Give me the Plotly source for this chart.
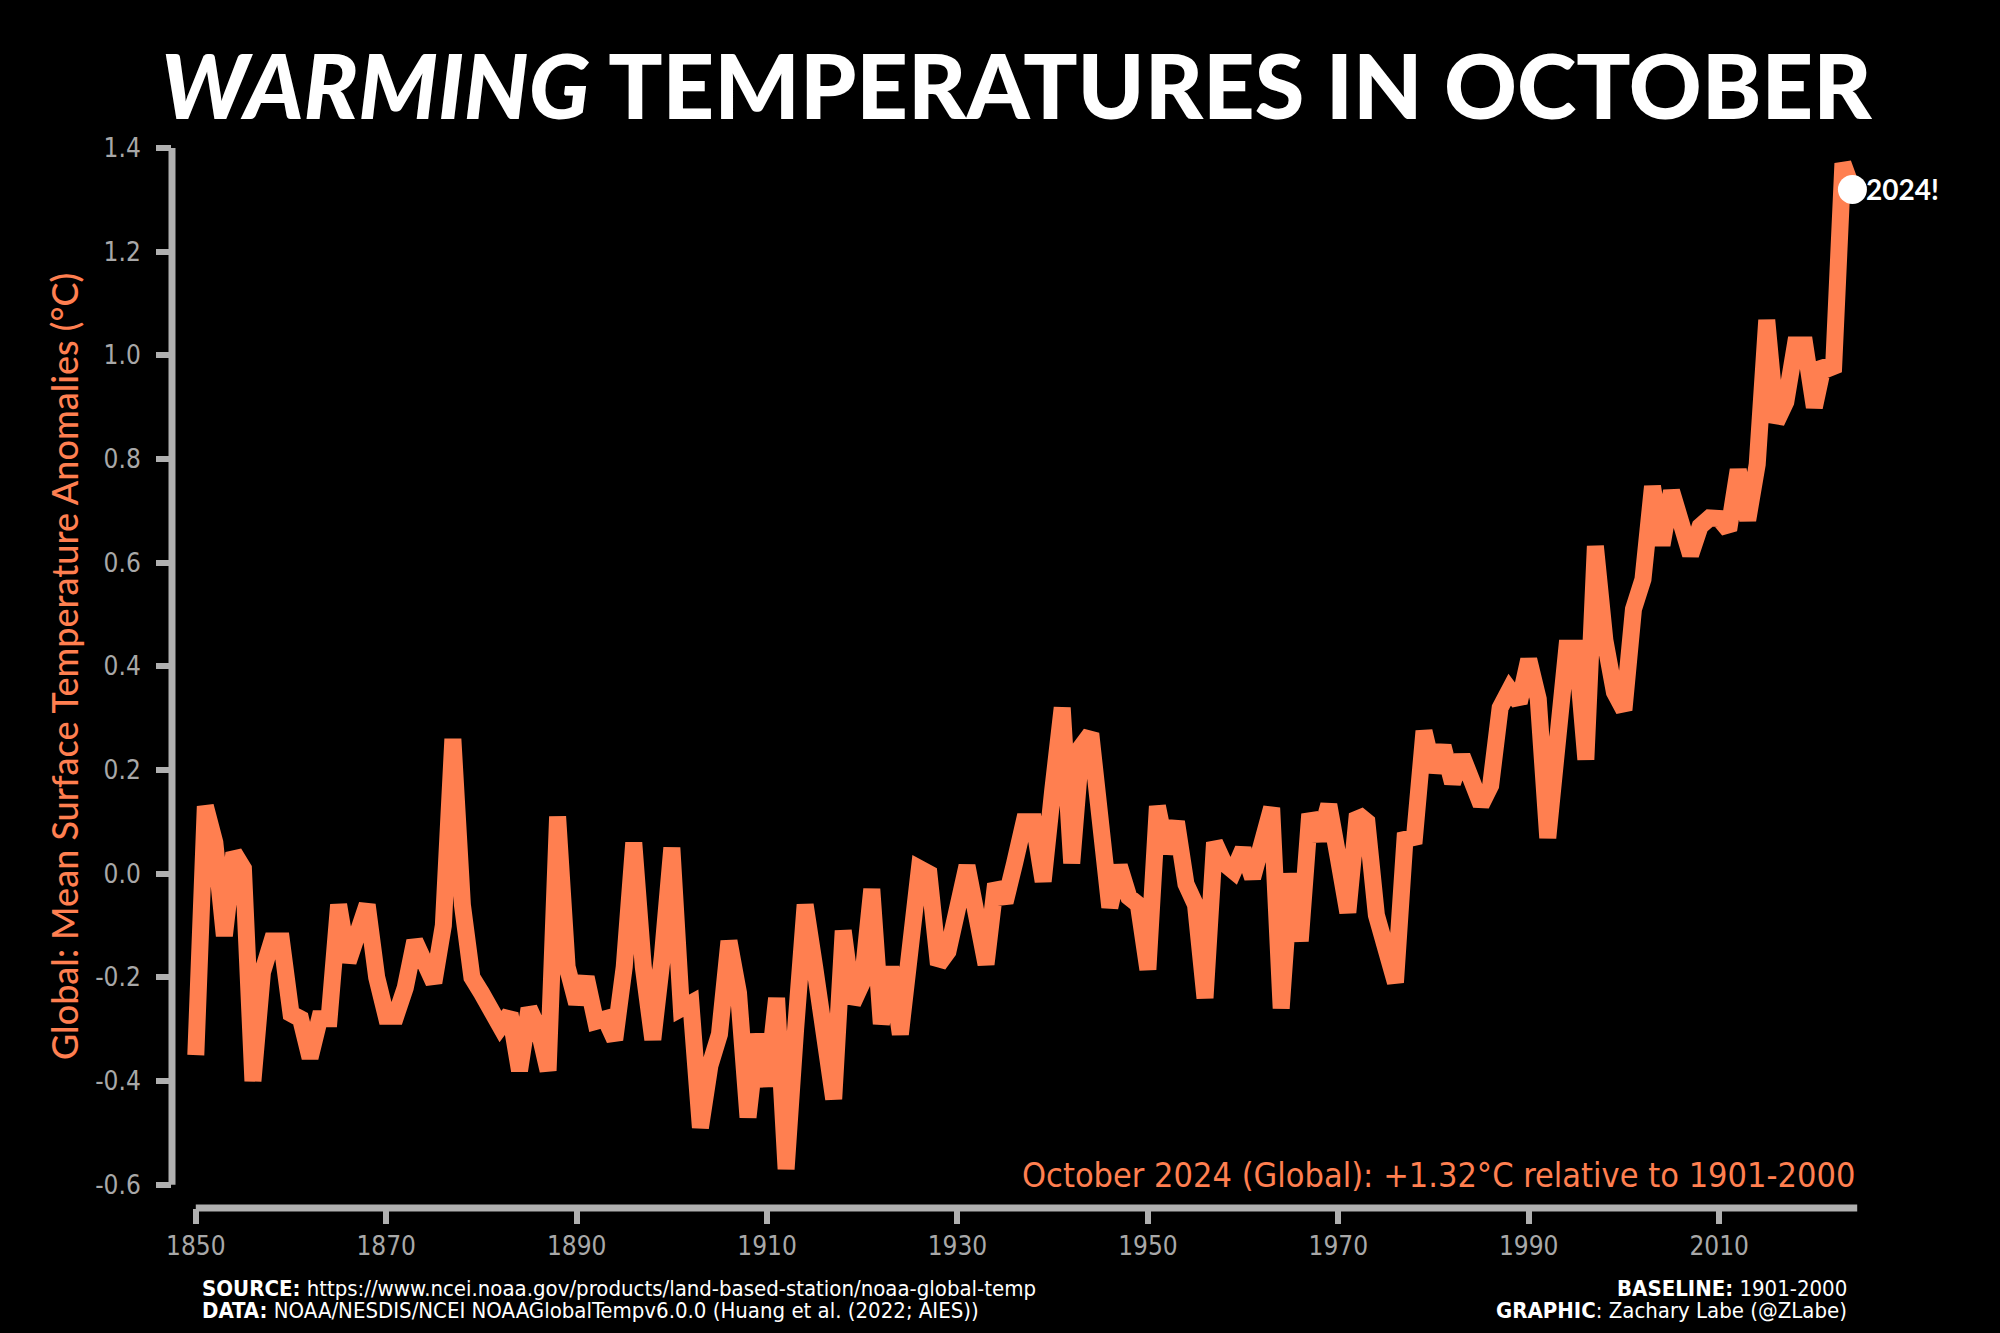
import plotly.graph_objects as go

years = list(range(1850, 2025))
anomalies = [
    -0.35, 0.13, 0.06, -0.12, 0.04, 0.01, -0.40, -0.19, -0.13, -0.13,   # 1850s
    -0.27, -0.28, -0.355, -0.28, -0.28, -0.06, -0.17, -0.12, -0.06, -0.20,  # 1860s
    -0.275, -0.275, -0.22, -0.13, -0.18, -0.21, -0.10, 0.26, -0.06, -0.20,  # 1870s
    -0.23, -0.26, -0.295, -0.27, -0.38, -0.26, -0.30, -0.38, 0.11, -0.18,  # 1880s
    -0.25, -0.20, -0.285, -0.28, -0.32, -0.18, 0.06, -0.18, -0.32, -0.16,  # 1890s
    0.05, -0.26, -0.25, -0.49, -0.37, -0.31, -0.13, -0.23, -0.47, -0.31,   # 1900s
    -0.41, -0.24, -0.57, -0.30, -0.06, -0.18, -0.30, -0.435, -0.11, -0.25,  # 1910s
    -0.21, -0.03, -0.29, -0.18, -0.31, -0.11, 0.01, 0.00, -0.175, -0.15,   # 1920s
    -0.07, 0.015, -0.08, -0.175, -0.02, -0.055, 0.02, 0.10, 0.10, -0.015,  # 1930s
    0.16, 0.32, 0.02, 0.245, 0.27, 0.12, -0.065, 0.015, -0.045, -0.06,    # 1940s
    -0.185, 0.13, 0.04, 0.10, -0.02, -0.06, -0.24, 0.06, 0.02, 0.005,     # 1950s
    0.047, -0.008, 0.06, 0.127, -0.26, 0.0, -0.13, 0.115, 0.065, 0.133,   # 1960s
    0.03, -0.075, 0.115, 0.10, -0.08, -0.15, -0.21, 0.066, 0.07, 0.275,   # 1970s
    0.197, 0.246, 0.175, 0.227, 0.18, 0.133, 0.17, 0.32, 0.355, 0.33,     # 1980s
    0.413, 0.337, 0.069, 0.254, 0.435, 0.435, 0.22, 0.632, 0.45, 0.35,    # 1990s
    0.316, 0.51, 0.568, 0.747, 0.634, 0.738, 0.678, 0.615, 0.67, 0.686,   # 2000s
    0.685, 0.663, 0.779, 0.682, 0.79, 1.068, 0.871, 0.91, 1.02, 1.02,     # 2010s
    0.90, 0.985, 0.968, 1.37, 1.32,                                        # 2020s
]

x_tick_vals = [1850, 1870, 1890, 1910, 1930, 1950, 1970, 1990, 2010]
x_tick_text = ["1850", "1870", "1890", "1910", "1930", "1950", "1970", "1990", "2010"]
y_tick_vals = [-0.6, -0.4, -0.2, 0.0, 0.2, 0.4, 0.6, 0.8, 1.0, 1.2, 1.4]
y_tick_text = ["-0.6", "-0.4", "-0.2", "0.0", "0.2", "0.4", "0.6", "0.8", "1.0", "1.2", "1.4"]

ORANGE = "#FF7F50"
GRAY = "#b0b0b0"
TICKGRAY = "#a8a8a8"
NARROW = "Liberation Sans Narrow, DejaVu Sans Condensed, Roboto, sans-serif"

fig = go.Figure()
fig.add_trace(go.Scatter(
    x=years, y=anomalies, mode="lines",
    line=dict(color=ORANGE, width=17),
    hoverinfo="skip", showlegend=False,
))
fig.add_trace(go.Scatter(
    x=[years[-1]], y=[anomalies[-1]], mode="markers",
    marker=dict(color="white", size=29, line=dict(width=0)),
    hoverinfo="skip", showlegend=False, cliponaxis=False,
))

# detached spines
fig.add_shape(type="line", xref="paper", yref="y", x0=0, x1=0,
              y0=y_tick_vals[0], y1=y_tick_vals[-1],
              line=dict(color=GRAY, width=7), layer="below")
fig.add_shape(type="line", xref="x", yref="paper", x0=years[0], x1=years[-1] + 0.5,
              y0=0, y1=0, line=dict(color=GRAY, width=7), layer="below")

fig.update_layout(
    width=2000, height=1333,
    paper_bgcolor="black", plot_bgcolor="black",
    margin=dict(l=172, r=119, t=122, b=125),
    xaxis=dict(range=[1847.5, 2027], showgrid=False, zeroline=False, showline=False,
               tickvals=x_tick_vals, ticktext=x_tick_text, ticks="outside",
               ticklen=15, tickwidth=6, tickcolor=GRAY,
               tickfont=dict(family=NARROW, size=26, color=TICKGRAY),
               ticklabelstandoff=0),
    yaxis=dict(range=[-0.645, 1.45], showgrid=False, zeroline=False, showline=False,
               tickvals=y_tick_vals, ticktext=y_tick_text, ticks="outside",
               ticklen=15, tickwidth=6, tickcolor=GRAY,
               tickfont=dict(family=NARROW, size=26, color=TICKGRAY),
               ticklabelstandoff=10),
)

annotations = [
    dict(text="<i>WARMING</i> TEMPERATURES IN OCTOBER", xref="paper", yref="paper",
         x=0.4939, y=1.035, xanchor="center", yanchor="middle", showarrow=False,
         font=dict(family="Lato, Open Sans, sans-serif", size=90, color="white", weight=900)),
    dict(text="Global: Mean Surface Temperature Anomalies (°C)", xref="paper", yref="paper",
         x=-0.0632, y=0.499, xanchor="center", yanchor="middle", textangle=-90,
         showarrow=False, font=dict(family="Lato, sans-serif", size=36, color=ORANGE, weight=500)),
    dict(text="October 2024 (Global): +1.32°C relative to 1901-2000", xref="paper", yref="paper",
         x=0.986, y=0.0304, xanchor="right", yanchor="middle", showarrow=False,
         font=dict(family=NARROW, size=34, color=ORANGE)),
    dict(text="<b>2024!</b>", xref="x", yref="y", x=years[-1], y=anomalies[-1],
         xanchor="left", yanchor="middle", xshift=12, showarrow=False,
         font=dict(family="Lato, sans-serif", size=28, color="white")),
    dict(text="<b>SOURCE:</b> https://www.ncei.noaa.gov/products/land-based-station/noaa-global-temp",
         xref="paper", yref="paper", x=0.0164, y=-0.0737, xanchor="left", yanchor="middle",
         showarrow=False, font=dict(family=NARROW, size=22, color="white")),
    dict(text="<b>DATA:</b> NOAA/NESDIS/NCEI NOAAGlobalTempv6.0.0 (Huang et al. (2022; AIES))",
         xref="paper", yref="paper", x=0.0164, y=-0.0948, xanchor="left", yanchor="middle",
         showarrow=False, font=dict(family=NARROW, size=22, color="white")),
    dict(text="<b>BASELINE:</b> 1901-2000",
         xref="paper", yref="paper", x=0.9813, y=-0.0737, xanchor="right", yanchor="middle",
         showarrow=False, font=dict(family=NARROW, size=22, color="white")),
    dict(text="<b>GRAPHIC</b>: Zachary Labe (@ZLabe)",
         xref="paper", yref="paper", x=0.9813, y=-0.0948, xanchor="right", yanchor="middle",
         showarrow=False, font=dict(family=NARROW, size=22, color="white")),
]
fig.update_layout(annotations=annotations)

fig.write_html(
    "out.html",
    config={"displayModeBar": False},
    post_script="document.body.style.margin='0';document.body.style.background='black';",
)
